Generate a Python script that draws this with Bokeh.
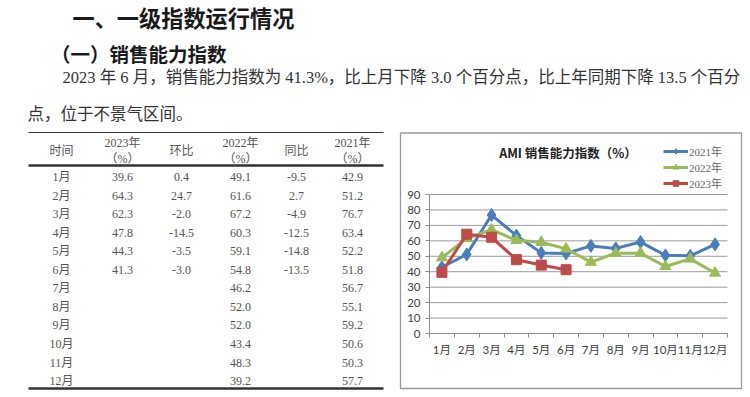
from bokeh.plotting import figure
from bokeh.models import Range1d, Legend, LegendItem, FixedTicker, LinearAxis
from bokeh.core.properties import value
from bokeh.embed import file_html
from bokeh.resources import INLINE

# ---------------- data ----------------
heading = "一、一级指数运行情况"
subheading = "（一）销售能力指数"
para_line1 = "2023 年 6 月，销售能力指数为 41.3%，比上月下降 3.0 个百分点，比上年同期下降 13.5 个百分"
para_line2 = "点，位于不景气区间。"

months = ["1月", "2月", "3月", "4月", "5月", "6月", "7月", "8月", "9月", "10月", "11月", "12月"]
v2023 = [39.6, 64.3, 62.3, 47.8, 44.3, 41.3]
mom2023 = [0.4, 24.7, -2.0, -14.5, -3.5, -3.0]
v2022 = [49.1, 61.6, 67.2, 60.3, 59.1, 54.8, 46.2, 52.0, 52.0, 43.4, 48.3, 39.2]
yoy2023 = [-9.5, 2.7, -4.9, -12.5, -14.8, -13.5]
v2021 = [42.9, 51.2, 76.7, 63.4, 52.2, 51.8, 56.7, 55.1, 59.2, 50.6, 50.3, 57.7]

table_headers = [["时间"], ["2023年", "（%）"], ["环比"], ["2022年", "（%）"], ["同比"], ["2021年", "（%）"]]
chart_title = "AMI 销售能力指数（%）"
series_names = ["2021年", "2022年", "2023年"]
y_ticks = [0, 10, 20, 30, 40, 50, 60, 70, 80, 90]

# ---------------- layout / styles ----------------
W, H = 750, 397
CJK = "Noto Sans CJK SC"
SERIF = "Liberation Serif, Noto Sans CJK SC"
SANS = "Lato, Noto Sans CJK SC"
BLUE, GREEN, RED = "#4A7EBB", "#9BBB59", "#BE4B48"

# chart plot-area in page pixels
PA_L, PA_R, PA_T, PA_B = 429, 727, 194, 333
X_MAX, Y_MAX = len(months), 90
xs_px = (PA_R - PA_L) / X_MAX
ys_px = (PA_B - PA_T) / Y_MAX
x_range = Range1d(-PA_L / xs_px, X_MAX + (W - PA_R) / xs_px)
y_range = Range1d(-(H - PA_B) / ys_px, Y_MAX + PA_T / ys_px)

p = figure(width=W, height=H, x_range=x_range, y_range=y_range,
           output_backend="svg", toolbar_location=None, min_border=0,
           x_axis_location=None, y_axis_location=None)
p.grid.visible = False
p.outline_line_color = None
p.extra_x_ranges = {"px": Range1d(0, W)}
p.extra_y_ranges = {"px": Range1d(H, 0)}
PX = dict(x_range_name="px", y_range_name="px")

# ---------------- header text ----------------
p.text(x=[72], y=[16], text=[heading], text_font=value(CJK), text_font_style="bold",
       text_font_size="22.2px", text_baseline="middle", text_color="#1a1a1a", **PX)
p.text(x=[50.5], y=[53], text=[subheading], text_font=value(CJK), text_font_style="bold",
       text_font_size="19.5px", text_baseline="middle", text_color="#1a1a1a", **PX)
p.text(x=[62], y=[77], text=[para_line1], text_font=value(SERIF),
       text_font_size="16.5px", text_baseline="middle", text_color="#333333", **PX)
p.text(x=[27], y=[114], text=[para_line2], text_font=value(SERIF),
       text_font_size="16.5px", text_baseline="middle", text_color="#333333", **PX)

# ---------------- table ----------------
T_L, T_R = 28, 383
col_x = [61, 122, 181, 240, 296, 352]
row_y0, row_step = 176.5, 18.55
p.segment(x0=[T_L], y0=[132], x1=[T_R], y1=[132], line_color="#333333", line_width=1.2, **PX)
p.segment(x0=[T_L, T_L], y0=[165, 388], x1=[T_R, T_R], y1=[165, 388],
          line_color="#333333", line_width=2.5, **PX)

hx, hy, ht = [], [], []
for cx, lines in zip(col_x, table_headers):
    if len(lines) == 1:
        hx.append(cx); hy.append(150); ht.append(lines[0])
    else:
        hx += [cx, cx]; hy += [142, 158]; ht += lines
p.text(x=hx, y=hy, text=ht, text_font=value(SERIF), text_font_size="12px",
       text_align="center", text_baseline="middle", text_color="#555555", **PX)

cols = [months, v2023, mom2023, v2022, yoy2023, v2021]
tx, ty, tt = [], [], []
for cx, vals in zip(col_x, cols):
    for i, v in enumerate(vals):
        tx.append(cx)
        ty.append(row_y0 + i * row_step)
        tt.append(v if isinstance(v, str) else f"{v:.1f}")
p.text(x=tx, y=ty, text=tt, text_font=value(SERIF), text_font_size="12px",
       text_align="center", text_baseline="middle", text_color="#555555", **PX)

# ---------------- chart ----------------
p.quad(left=[400], right=[741], top=[132.5], bottom=[388], fill_color="white",
       line_color="#9a9a9a", line_width=1.3, **PX)
p.text(x=[567.5], y=[152], text=[chart_title], text_font=value(CJK), text_font_style="bold",
       text_font_size="12.5px", text_align="center", text_baseline="middle",
       text_color="#222222", **PX)

# horizontal gridlines from the y ticks
p.segment(x0=[0] * len(y_ticks), x1=[X_MAX] * len(y_ticks), y0=y_ticks, y1=y_ticks,
          line_color="#9a9a9a", line_width=1)

centers = [i + 0.5 for i in range(len(months))]
xaxis = LinearAxis(fixed_location=0, bounds=(0, X_MAX),
                   ticker=FixedTicker(ticks=centers, minor_ticks=list(range(X_MAX + 1))),
                   major_label_overrides={c: m for c, m in zip(centers, months)},
                   major_tick_out=0, major_tick_in=0, minor_tick_out=4, minor_tick_in=0,
                   major_label_standoff=5)
yaxis = LinearAxis(fixed_location=0, bounds=(0, Y_MAX), ticker=FixedTicker(ticks=y_ticks),
                   major_tick_out=4, major_tick_in=0, minor_tick_out=0, minor_tick_in=0,
                   major_label_standoff=5)
for ax in (xaxis, yaxis):
    ax.axis_line_color = "#8c8c8c"
    ax.major_tick_line_color = "#8c8c8c"
    ax.minor_tick_line_color = "#8c8c8c"
    ax.major_label_text_font = SANS
    ax.major_label_text_font_size = "11.5px"
    ax.major_label_text_color = "#404040"
p.add_layout(xaxis, "below")
p.add_layout(yaxis, "left")

series = [(v2021, BLUE, "diamond", 13), (v2022, GREEN, "triangle", 11), (v2023, RED, "square", 10)]
items = []
for name, (vals, col, mk, sz) in zip(series_names, series):
    xs = centers[:len(vals)]
    rl = p.line(xs, vals, line_color=col, line_width=3)
    rs = p.scatter(xs, vals, marker=mk, size=sz, fill_color=col, line_color=col)
    items.append(LegendItem(label=name, renderers=[rl, rs]))

legend = Legend(items=items, location=(663, H - 191), padding=0, spacing=0, margin=0,
                label_height=14, glyph_height=14, glyph_width=25, label_standoff=1,
                label_text_font=SERIF, label_text_font_size="11px",
                label_text_color="#666666", border_line_color=None, background_fill_alpha=0)
p.add_layout(legend)

open("out.html", "w").write(file_html(p, INLINE))
